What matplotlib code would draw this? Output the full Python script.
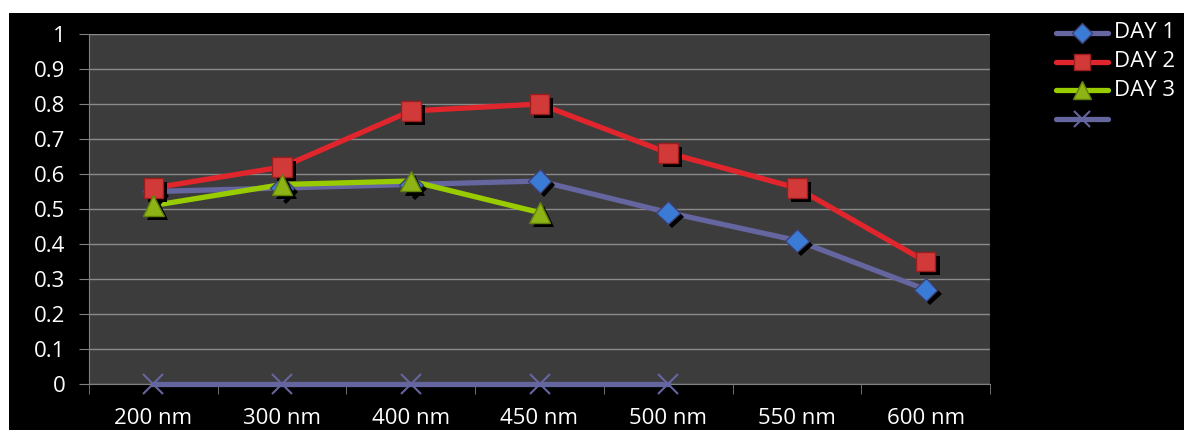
import matplotlib.pyplot as plt
import matplotlib.patheffects as pe
from matplotlib.patches import Rectangle
from matplotlib.ticker import FixedLocator

wavelengths = ['200 nm', '300 nm', '400 nm', '450 nm', '500 nm', '550 nm', '600 nm']
day1 = [0.55, 0.56, 0.57, 0.58, 0.49, 0.41, 0.27]
day2 = [0.56, 0.62, 0.78, 0.80, 0.66, 0.56, 0.35]
day3 = [0.51, 0.57, 0.58, 0.49]
blank = [0, 0, 0, 0, 0]

plt.rcParams['font.family'] = ['Open Sans', 'DejaVu Sans']
FS = 16

fig = plt.figure(figsize=(11.84, 4.30), dpi=100, facecolor='white')
# black panel behind the chart
fig.patches.append(Rectangle((9 / 1184, 0), 1, 1 - 13 / 430, transform=fig.transFigure,
                             facecolor='black', edgecolor='none', zorder=-10))

ax = fig.add_axes([89 / 1184, 1 - 384 / 430, 901 / 1184, 350 / 430])
ax.set_facecolor('#3c3c3c')

shadow = [pe.withSimplePatchShadow(offset=(3, -3), shadow_rgbFace='black', alpha=1.0)]

series = [
    ('DAY 1', day1, '#6565a0', 'D', '#3a7bd5', '#404070', 12, 10),
    ('DAY 2', day2, '#e0262c', 's', '#d23a3a', '#9a1e1e', 14, 12),
    ('DAY 3', day3, '#99cc00', '^', '#8db414', '#62800c', 15, 13),
]

x_all = list(range(len(wavelengths)))
for name, vals, lc, mk, fc, ec, ms, lms in series:
    xs = x_all[:len(vals)]
    ax.plot(xs, vals, color=lc, lw=3.8, solid_capstyle='round', zorder=3)
    ax.plot(xs, vals, linestyle='none', marker=mk, markersize=ms, markerfacecolor=fc,
            markeredgecolor=ec, markeredgewidth=1, path_effects=shadow, zorder=4)

ax.plot(x_all[:len(blank)], blank, color='#6565a0', lw=3.8, marker='x', markersize=14,
        markeredgewidth=1.5, markeredgecolor='#6565a0', zorder=3, clip_on=False)

# legend drawn as handles on the figure
legend_rows = series + [('', None, '#6565a0', 'x', '#6565a0', '#6565a0', 12, 11)]
for i, (name, vals, lc, mk, fc, ec, ms, lms) in enumerate(legend_rows):
    y = 1 - (33 + 28.5 * i) / 430
    fig.add_artist(plt.Line2D([1056 / 1184, 1108 / 1184], [y, y], color=lc, lw=3.8,
                              solid_capstyle='round', transform=fig.transFigure))
    fig.add_artist(plt.Line2D([1081.5 / 1184], [y], marker=mk, markersize=lms,
                              markerfacecolor=fc, markeredgecolor=ec,
                              markeredgewidth=1.5 if mk == 'x' else 1,
                              transform=fig.transFigure))
    if name:
        fig.text(1114 / 1184, y, name, color='white', fontsize=FS, va='center', ha='left')

ax.set_xlim(-0.5, 6.5)
ax.set_ylim(0, 1)
ax.set_yticks([i / 10 for i in range(11)])
ax.set_yticklabels(['0', '0.1', '0.2', '0.3', '0.4', '0.5', '0.6', '0.7', '0.8', '0.9', '1'])
ax.set_xticks(x_all)
ax.set_xticklabels(wavelengths)
ax.xaxis.set_minor_locator(FixedLocator([i - 0.5 for i in range(8)]))
ax.tick_params(axis='x', which='major', length=0, pad=17, labelsize=FS, labelcolor='white')
ax.tick_params(axis='x', which='minor', length=7, color='#808080')
ax.tick_params(axis='y', length=7, color='#808080', labelsize=FS, labelcolor='white', pad=10)

ax.grid(axis='y', color='#8a8a8a', lw=1)
ax.set_axisbelow(True)
for side in ['top', 'right']:
    ax.spines[side].set_visible(False)
for side in ['left', 'bottom']:
    ax.spines[side].set_color('#808080')

fig.savefig('out.png', dpi=100, facecolor='white')
